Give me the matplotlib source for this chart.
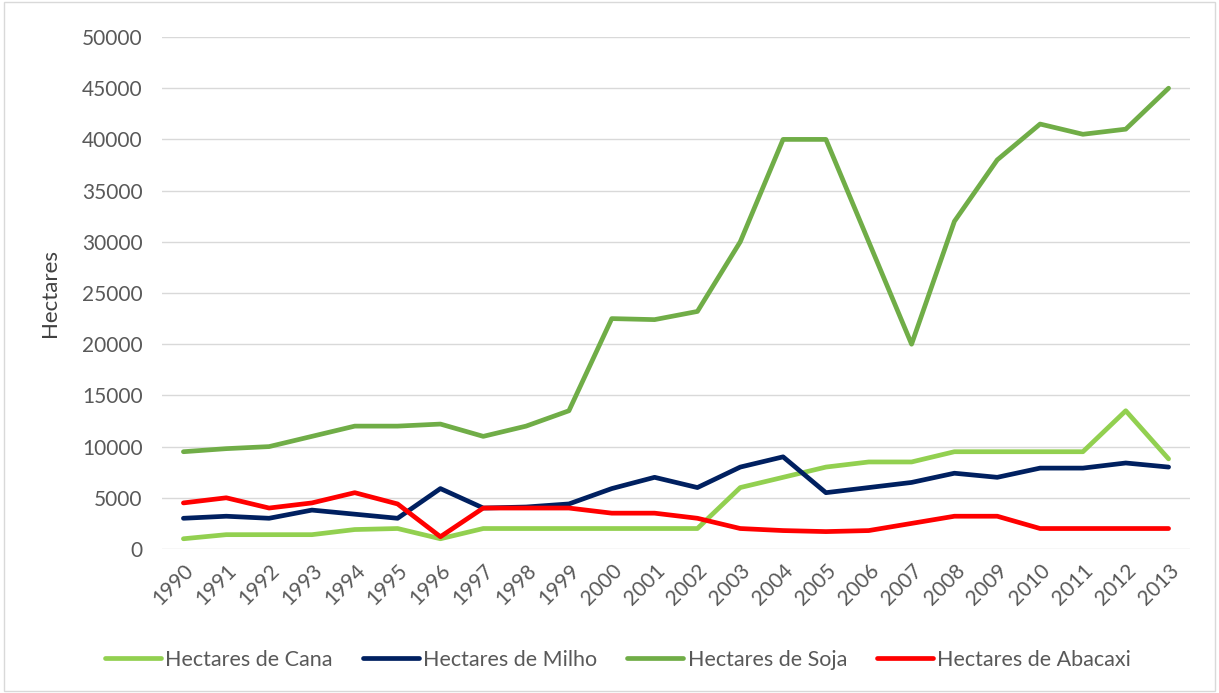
import matplotlib.pyplot as plt
import matplotlib.patches as patches

anos = [str(a) for a in range(1990, 2014)]
cana = [1000, 1400, 1400, 1400, 1900, 2000, 1000, 2000, 2000, 2000, 2000, 2000,
        2000, 6000, 7000, 8000, 8500, 8500, 9500, 9500, 9500, 9500, 13500, 8800]
milho = [3000, 3200, 3000, 3800, 3400, 3000, 5900, 4000, 4100, 4400, 5900, 7000,
         6000, 8000, 9000, 5500, 6000, 6500, 7400, 7000, 7900, 7900, 8400, 8000]
soja = [9500, 9800, 10000, 11000, 12000, 12000, 12200, 11000, 12000, 13500, 22500, 22400,
        23200, 30000, 40000, 40000, 30000, 20000, 32000, 38000, 41500, 40500, 41000, 45000]
abacaxi = [4500, 5000, 4000, 4500, 5500, 4400, 1200, 4000, 4000, 4000, 3500, 3500,
           3000, 2000, 1800, 1700, 1800, 2500, 3200, 3200, 2000, 2000, 2000, 2000]

plt.rcParams['font.family'] = ['Lato', 'DejaVu Sans']

fig = plt.figure(figsize=(12.19, 6.93), dpi=100)
ax = fig.add_axes([162 / 1219, 1 - 549 / 693, 1028 / 1219, 512 / 693])

x = list(range(len(anos)))
series = [
    (cana, '#92D050', 'Hectares de Cana'),
    (milho, '#002060', 'Hectares de Milho'),
    (soja, '#70AD47', 'Hectares de Soja'),
    (abacaxi, '#FF0000', 'Hectares de Abacaxi'),
]
for vals, cor, nome in series:
    ax.plot(x, vals, color=cor, lw=3.4, label=nome, solid_capstyle='round')

ax.set_xlim(-0.5, len(anos) - 0.5)
ax.set_ylim(0, 50000)
ax.set_yticks(range(0, 50001, 5000))
ax.set_xticks(x)
ax.set_xticklabels(anos, rotation=45, ha='right', rotation_mode='anchor')
ax.grid(axis='y', color='#D9D9D9', lw=1)
ax.set_axisbelow(True)
for s in ax.spines.values():
    s.set_visible(False)
ax.tick_params(length=0, labelsize=15, colors='#595959', pad=8)
ax.tick_params(axis='y', pad=14)
ax.set_ylabel('Hectares', fontsize=16, color='#404040', labelpad=16)

ax.legend(loc='center', bbox_to_anchor=(618 / 1219, 1 - 660 / 693), bbox_transform=fig.transFigure,
          ncol=4, frameon=False, fontsize=15.5, handlelength=2.6, handletextpad=0.2,
          columnspacing=1.4, labelcolor='#595959')

fig.patches.append(patches.Rectangle((0.003, 0.003), 0.994, 0.994, transform=fig.transFigure,
                                     fill=False, edgecolor='#D9D9D9', lw=1))

fig.savefig('out.png', dpi=100)
